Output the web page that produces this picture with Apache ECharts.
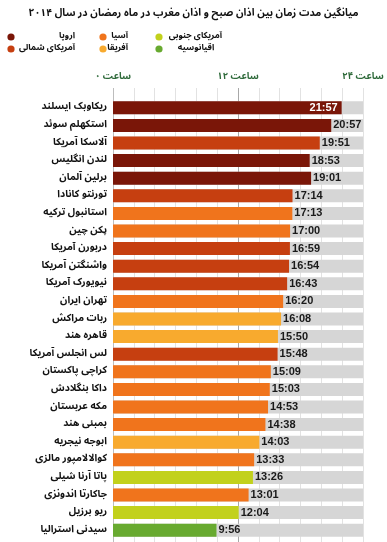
<!DOCTYPE html>
<html dir="ltr"><head><meta charset="utf-8">
<script src="https://cdn.jsdelivr.net/npm/echarts@6/dist/echarts.min.js"></script>
<style>html,body{margin:0;padding:0;background:#fff}#c{width:387px;height:542px}</style>
</head><body><div id="c"></div>
<script>
var title = 'میانگین مدت زمان بین اذان صبح و اذان مغرب در ماه رمضان در سال ۲۰۱۴';
var cities = ['ریکاوبک ایسلند','استکهلم سوئد','آلاسکا آمریکا','لندن انگلیس','برلین آلمان','تورنتو کانادا','استانبول ترکیه','پکن چین','دربورن آمریکا','واشنگتن آمریکا','نیویورک آمریکا','تهران ایران','ربات مراکش','قاهره هند','لس انجلس آمریکا','کراچی پاکستان','داکا بنگلادش','مکه عربستان','بمبئی هند','ابوجه نیجریه','کوالالامپور مالزی','پاتا آرنا شیلی','جاکارتا اندونزی','ریو برزیل','سیدنی استرالیا'];
var durations = ['21:57','20:57','19:51','18:53','19:01','17:14','17:13','17:00','16:59','16:54','16:43','16:20','16:08','15:50','15:48','15:09','15:03','14:53','14:38','14:03','13:33','13:26','13:01','12:04','9:56'];
var cityRegion = [0,0,1,0,0,1,2,2,1,1,1,2,3,3,1,2,2,2,2,3,2,4,2,4,5];
var regionNames = ['اروپا','آمریکای شمالی','آسیا','آفریقا','آمریکای جنوبی','اقیانوسیه'];
var regionColors = ['#7a1608','#c63f10','#f0741c','#f8aa2e','#c2d11c','#68aa30'];
var tickLabels = {0:'۰ ساعت',12:'۱۲ ساعت',24:'۲۴ ساعت'};

var FONT = '"Noto Sans Arabic","Noto Naskh Arabic","DejaVu Sans"';
var hours = durations.map(function(s){var p=s.split(':');return +p[0] + (+p[1])/60;});

var legendPos = [
  {dot:[11,37], tx:75, ty:37, align:'right'},
  {dot:[11,49], tx:75, ty:49, align:'right'},
  {dot:[103,37], tx:128, ty:37, align:'right'},
  {dot:[103,49], tx:128, ty:49, align:'right'},
  {dot:[159,37], tx:222, ty:37, align:'right'},
  {dot:[159,49], tx:196, ty:49, align:'center'}
];
var graphics = [];
regionNames.forEach(function(n,i){
  var p = legendPos[i];
  graphics.push({type:'circle', shape:{cx:p.dot[0], cy:p.dot[1], r:3.6}, style:{fill:regionColors[i]}});
  graphics.push({type:'text', x:p.tx, y:p.ty, style:{text:n, font:'bold 8.6px '+FONT, fill:'#111', align:p.align, verticalAlign:'middle'}});
});

var chart = echarts.init(document.getElementById('c'));
chart.setOption({
  animation:false,
  backgroundColor:'#fff',
  title:{text:title, left:'center', top:4, textStyle:{fontFamily:FONT, fontWeight:'bold', fontSize:10.3, color:'#111'}},
  graphic: graphics,
  grid:[
    {left:113, right:24, top:88, bottom:0},
    {left:113, right:24, top:99, bottom:3}
  ],
  xAxis:[
    {gridIndex:0, type:'value', min:0, max:24, interval:2, position:'top',
     axisLine:{show:false}, axisTick:{show:false},
     splitLine:{show:true, lineStyle:{color:['#bdbdbd','#e2e2e2','#e2e2e2','#e2e2e2','#e2e2e2','#e2e2e2','#a8a8a8','#e2e2e2','#e2e2e2','#e2e2e2','#e2e2e2','#e2e2e2','#e2e2e2'], width:1}},
     axisLabel:{margin:5, fontFamily:FONT, fontWeight:'bold', fontSize:9.5, color:'#2e6a3a',
       formatter:function(v){return tickLabels[v] !== undefined ? tickLabels[v] : '';}}},
    {gridIndex:1, type:'value', min:0, max:24, show:false}
  ],
  yAxis:[
    {gridIndex:0, type:'category', data:cities, show:false},
    {gridIndex:1, type:'category', data:cities, inverse:true,
     axisLine:{show:false}, axisTick:{show:false},
     axisLabel:{margin:6, fontFamily:FONT, fontWeight:'bold', fontSize:10, color:'#111'}}
  ],
  series:[{
    type:'bar', xAxisIndex:1, yAxisIndex:1, barWidth:13,
    showBackground:true, backgroundStyle:{color:'#d6d6d6'},
    data: hours.map(function(h,i){
      var item = {value:h, itemStyle:{color:regionColors[cityRegion[i]]}};
      if(i===0){ item.label = {position:'insideRight', color:'#fff', distance:4}; }
      return item;
    }),
    label:{show:true, position:'right', distance:2, fontFamily:'"Liberation Sans"', fontWeight:'bold', fontSize:11, color:'#1a1a1a',
      formatter:function(p){return durations[p.dataIndex];}}
  }]
});
</script></body></html>
